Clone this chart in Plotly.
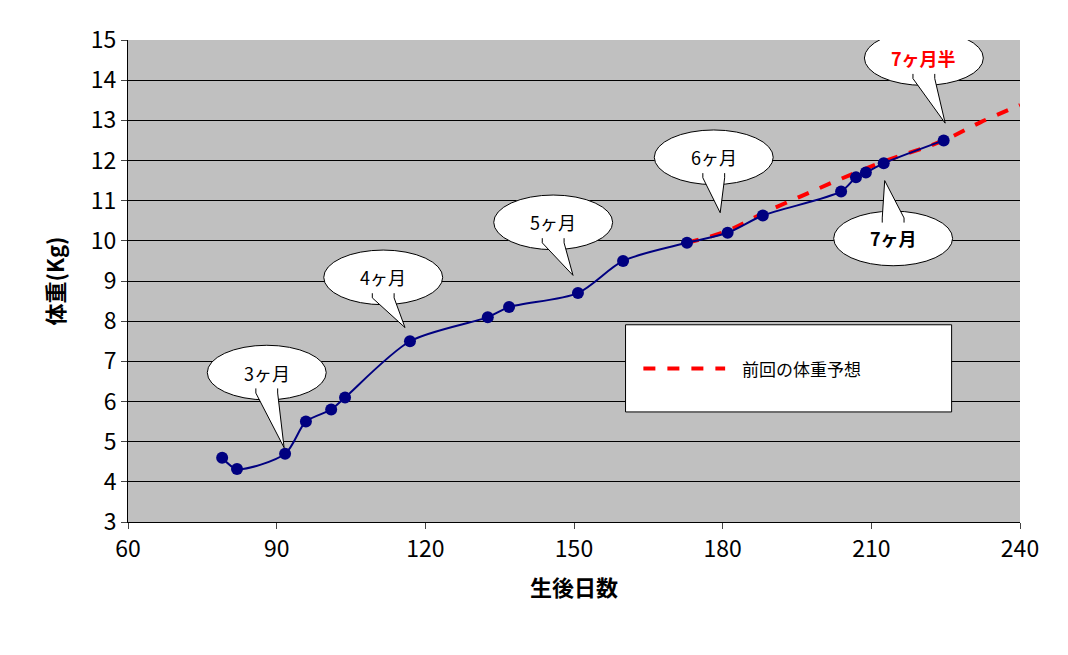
import plotly.graph_objects as go

days = [79, 82, 91.7, 95.9, 101, 103.8, 116.9, 132.6, 136.9, 150.8, 159.9, 172.8, 181, 188.1, 203.9, 206.9, 208.9, 212.5, 224.6]
weights = [4.6, 4.32, 4.7, 5.5, 5.8, 6.1, 7.5, 8.1, 8.35, 8.7, 9.5, 9.95, 10.2, 10.63, 11.23, 11.58, 11.7, 11.93, 12.5]
pred_days = [172.8, 181, 188, 196, 204, 212, 224.6, 232, 240]
pred_weights = [9.95, 10.25, 10.68, 11.12, 11.55, 11.95, 12.5, 12.95, 13.38]
bubble_labels = ["3ヶ月", "4ヶ月", "5ヶ月", "6ヶ月", "7ヶ月", "7ヶ月半"]
bubble_cx = [88, 111.5, 145.8, 178.2, 214.4, 220.6]
bubble_cy = [6.72, 9.09, 10.46, 12.08, 10.06, 14.55]
tail_x = [91.5, 115.9, 149.8, 179.5, 212.7, 224.9]
tail_y = [4.85, 7.84, 9.14, 10.7, 11.5, 12.93]
bubble_bold = [False, False, False, False, True, True]
bubble_color = ["black", "black", "black", "black", "black", "#ff0000"]

FONT = "Noto Sans CJK JP"
fig = go.Figure()
fig.add_trace(go.Scatter(x=pred_days, y=pred_weights, mode="lines", line=dict(color="#ff0000", width=4, dash="dash", shape="spline"), showlegend=False))
fig.add_trace(go.Scatter(x=days, y=weights, mode="lines+markers", line=dict(color="#000080", width=2, shape="spline", smoothing=0.8),
                         marker=dict(color="#000080", size=12), showlegend=False))

shapes = []
ann = []
W, H = 12.0, 0.68
for lab, cx, cy, tx, ty, b, c in zip(bubble_labels, bubble_cx, bubble_cy, tail_x, tail_y, bubble_bold, bubble_color):
    shapes.append(dict(type="circle", xref="x", yref="y", x0=cx - W, x1=cx + W, y0=cy - H, y1=cy + H,
                       fillcolor="white", line=dict(color="black", width=1)))
    sgn = -1 if ty < cy else 1
    by = cy + sgn * H * 0.75
    b1, b2 = cx - 2.2, cx + 2.2
    shapes.append(dict(type="path", xref="x", yref="y", path=f"M {b1},{by} L {tx},{ty} L {b2},{by} Z",
                       fillcolor="white", line=dict(width=0)))
    shapes.append(dict(type="path", xref="x", yref="y", path=f"M {b1},{cy + sgn*H*0.58} L {b1},{by} L {tx},{ty} L {b2},{by} L {b2},{cy + sgn*H*0.58}",
                       line=dict(color="black", width=1)))
    txt = f"<b>{lab}</b>" if b else lab
    ann.append(dict(x=cx, y=cy, xref="x", yref="y", text=txt, showarrow=False, font=dict(size=18, color=c, family=FONT)))

shapes.append(dict(type="rect", xref="x", yref="y", x0=160.4, x1=226.2, y0=5.74, y1=7.91, fillcolor="white", line=dict(color="black", width=1)))
shapes.append(dict(type="line", xref="x", yref="y", x0=164, x1=180.5, y0=6.82, y1=6.82, line=dict(color="#ff0000", width=4, dash="dash")))
ann.append(dict(x=183.5, y=6.82, xref="x", yref="y", xanchor="left", text="前回の体重予想", showarrow=False, font=dict(size=17, color="black", family=FONT)))

fig.update_layout(
    width=1068, height=655, margin=dict(l=120, r=56, t=32, b=141),
    paper_bgcolor="white", plot_bgcolor="#c0c0c0", shapes=shapes, annotations=ann,
    font=dict(family=FONT, color="black"),
    xaxis=dict(range=[60, 240], tickvals=[60, 90, 120, 150, 180, 210, 240], showgrid=False, ticks="outside", ticklen=6,
               showline=True, linecolor="black", tickfont=dict(size=23), zeroline=False,
               title=dict(text="<b>生後日数</b>", font=dict(size=22), standoff=18)),
    yaxis=dict(range=[3, 15], dtick=1, showgrid=True, gridcolor="black", gridwidth=1, ticks="outside", ticklen=6,
               showline=True, linecolor="black", tickfont=dict(size=23), zeroline=False,
               title=dict(text="<b>体重(Kg)</b>", font=dict(size=22), standoff=20)),
)
fig.write_html("out.html")
